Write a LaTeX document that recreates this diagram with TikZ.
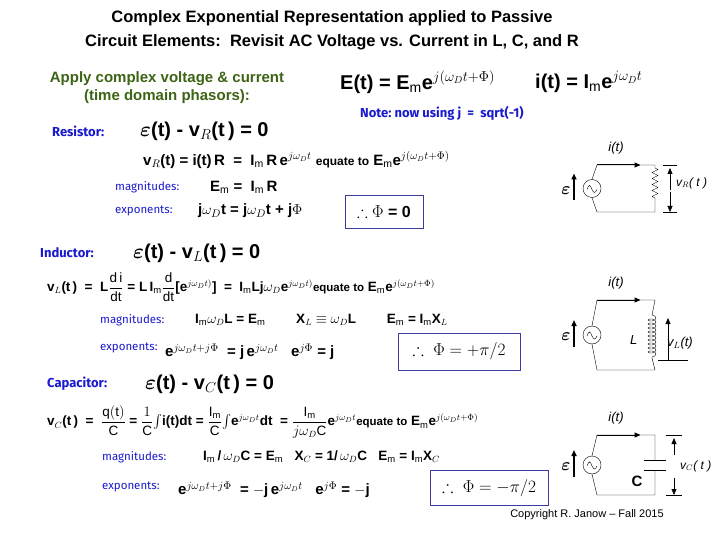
\documentclass[tikz,border=0pt]{standalone}
\usepackage{amsmath,amssymb}
\usepackage{fontspec}
\setmainfont{Liberation Sans}
\newfontfamily\labfont{Fira Sans}
\usetikzlibrary{arrows.meta,decorations.pathmorphing,calc}
\definecolor{blu}{RGB}{25,25,205}
\definecolor{grn}{RGB}{60,100,20}
\definecolor{boxc}{RGB}{60,60,160}
\tikzset{
 x=1pt,y=-1pt,
 eq/.style={anchor=west,inner sep=0pt,font=\bfseries\fontsize{15}{17}\selectfont},
 eqs/.style={anchor=west,inner sep=0pt,font=\bfseries\fontsize{13.5}{15}\selectfont},
 big/.style={anchor=west,inner sep=0pt,font=\bfseries\fontsize{20}{22}\selectfont},
 lab/.style={anchor=west,inner sep=0pt,text=blu,font=\labfont\bfseries\fontsize{13}{15}\selectfont},
 labs/.style={anchor=west,inner sep=0pt,text=blu,font=\labfont\fontsize{11.5}{13}\selectfont},
 ttl/.style={inner sep=0pt,font=\bfseries\fontsize{16.5}{19}\selectfont},
 res/.style={draw=boxc,thick},
 wire/.style={draw,thin},
 arr/.style={-{Triangle[length=6pt,width=5pt]}},
 cl/.style={inner sep=0pt,font=\itshape\fontsize{13}{15}\selectfont}
}
\begin{document}
\begin{tikzpicture}
\useasboundingbox (0,0) rectangle (720,540);
\node[ttl] (t1) at (332,18) {Complex Exponential Representation applied to Passive};
\node[ttl] (t2) at (332,42) {Circuit Elements:\ \ Revisit AC Voltage vs. Current in L, C, and R};
\node[text=grn,inner sep=0pt,font=\bfseries\fontsize{15}{17}\selectfont,align=center] (ap) at (167,88) {Apply complex voltage \& current\\[1pt](time domain phasors):};
\node[big] (Et) at (340,82) {E(t) = E$_\mathrm{m}$e$^{j(\omega_D t+\Phi)}$};
\node[big] (it) at (535,82) {i(t) = I$_\mathrm{m}$e$^{j\omega_D t}$};
\node[lab] (note) at (360,113) {Note:\ now using j \ = \ sqrt(-1)};
% Resistor
\node[lab] (rl) at (52,131) {Resistor:};
\node[big] (re) at (140,131) {$\boldsymbol{\varepsilon}$(t) - v$_R$(t\,) = 0};
\node[eq] (r1) at (143,160) {v$_R$(t) = i(t)\,R \ = \ I$_\mathrm{m}$\,R\,e$^{j\omega_D t}$ {\fontsize{12}{14}\selectfont equate to} E$_\mathrm{m}$e$^{j(\omega_D t+\Phi)}$};
\node[labs] (rm) at (115,187) {magnitudes:};
\node[eq] (rm2) at (210,187) {E$_\mathrm{m}$ = \ I$_\mathrm{m}$\,R};
\node[labs] (rx) at (115,211) {exponents:};
\node[eq] (rx2) at (198,211) {j$\omega_D$t = j$\omega_D$t + j$\Phi$};
\node[res,minimum width=78,minimum height=33,inner sep=0pt,font=\bfseries\fontsize{16}{18}\selectfont] (rb) at (384,211.5) {$\therefore$\ $\Phi$ = 0};
% Inductor
\node[lab] (ll) at (40,253) {Inductor:};
\node[big] (le) at (133,253) {$\boldsymbol{\varepsilon}$(t) - v$_L$(t\,) = 0};
\node[eqs] (l1) at (47,287) {v$_L$(t\,) \ = \ L$\dfrac{\mathrm{d\,i}}{\mathrm{dt}}$ = L\,I$_\mathrm{m}\dfrac{\mathrm{d}}{\mathrm{dt}}$[e$^{j\omega_D t)}$] \ = \ I$_\mathrm{m}$Lj$\omega_D$e$^{j\omega_D t)}${\fontsize{11.5}{13}\selectfont equate to} E$_\mathrm{m}$e$^{j(\omega_D t+\Phi)}$};
\node[labs] (lm) at (100,320) {magnitudes:};
\node[eqs] (lm2) at (195,320) {I$_\mathrm{m}\omega_D$L = E$_\mathrm{m}$ \qquad X$_L$ $\equiv$ $\omega_D$L \qquad E$_\mathrm{m}$ = I$_\mathrm{m}$X$_L$};
\node[labs] (lx) at (100,348) {exponents:};
\node[eq] (lx2) at (165,352) {e$^{j\omega_D t+j\Phi}$ \ = j\,e$^{j\omega_D t}$ \ \ e$^{j\Phi}$ = j};
\node[res,minimum width=122,minimum height=37,inner sep=0pt,font=\fontsize{17}{19}\selectfont] (lb) at (459,351.5) {$\therefore\ \Phi = +\pi/2$};
% Capacitor
\node[lab] (cl) at (47,384) {Capacitor:};
\node[big] (ce) at (145,384) {$\boldsymbol{\varepsilon}$(t) - v$_C$(t\,) = 0};
\node[eqs] (c1) at (47,422) {v$_C$(t\,) \ = \ $\dfrac{\mathrm{q(t)}}{\mathrm{C}}$ = $\dfrac{1}{\mathrm{C}}\!\int$i(t)dt = $\dfrac{\mathrm{I_m}}{\mathrm{C}}\!\int$e$^{j\omega_D t}$dt \ = $\dfrac{\mathrm{I_m}}{j\omega_D\mathrm{C}}$e$^{j\omega_D t}${\fontsize{11.5}{13}\selectfont equate to} E$_\mathrm{m}$e$^{j(\omega_D t+\Phi)}$};
\node[labs] (cm) at (102,457) {magnitudes:};
\node[eqs] (cm2) at (203,457) {I$_\mathrm{m}$\,/\,$\omega_D$C = E$_\mathrm{m}$ \ \ X$_C$ = 1/\,$\omega_D$C \ \ E$_\mathrm{m}$ = I$_\mathrm{m}$X$_C$};
\node[labs] (cx) at (102,487) {exponents:};
\node[eq] (cx2) at (178,490) {e$^{j\omega_D t+j\Phi}$ \ = $-$j\,e$^{j\omega_D t}$ \ \ e$^{j\Phi}$ = $-$j};
\node[res,minimum width=118,minimum height=35,inner sep=0pt,font=\fontsize{17}{19}\selectfont] (cb) at (489,488) {$\therefore\ \Phi = -\pi/2$};
\node[inner sep=0pt,font=\fontsize{11}{13}\selectfont] (cp) at (587,515) {Copyright R. Janow -- Fall 2015};
% ---- circuits
\foreach \yt/\yb/\nm in {165/212/R,300/370/L,435/495/C}{
 \coordinate (\nm tl) at (597,\yt);
 \coordinate (\nm tr) at (655,\yt);
 \coordinate (\nm bl) at (597,\yb);
 \coordinate (\nm br) at (655,\yb);
 \node[draw,circle,minimum size=18,inner sep=0pt,fill=white] (\nm src) at (592,{(\yt+\yb)/2}) {};
 \draw[thin] ($(\nm src)+(-5,1)$) sin ($(\nm src)+(-2.5,-3)$) cos ($(\nm src)+(0,1)$) sin ($(\nm src)+(2.5,4)$) cos ($(\nm src)+(5,1)$);
 \node[inner sep=0pt,font=\bfseries\fontsize{17}{19}\selectfont] (\nm eps) at (566,{(\yt+\yb)/2+2}) {$\boldsymbol{\varepsilon}$};
 \draw[arr,line width=1.5pt] ($(\nm eps)+(8,10)$) coordinate (\nm a1) -- ($(\nm eps)+(8,-17)$) coordinate (\nm a2);
 \draw[arr,line width=1pt] (\nm tl) -- ($(\nm tl)!0.75!(\nm tr)$) coordinate (\nm ia);
 \node[cl] (\nm ilab) at (616,{\yt-17}) {i(t)};
}
\draw[wire] (Rtl)--(Rsrc.north) (Rsrc.south)--(Rbl)--(Rbr)--(655,200) (Rtl)--(Rtr)--(655,168);
\draw[decorate,decoration={zigzag,segment length=6,amplitude=3}] (655,168)--(655,200);
\draw[arr] (670,190)--(670,168);\draw[arr] (670,192)--(670,212);
\draw (663,165)--(677,165) (663,212)--(677,212);
\node[cl,anchor=west,font=\itshape\fontsize{12}{14}\selectfont] (vr) at (676,183) {v$_R$( t )};
\draw[wire] (Ltl)--(Lsrc.north) (Lsrc.south)--(Lbl)--(Lbr)--(652,358) (Ltl)--(Ltr)--(652,315);
\draw[decorate,decoration={coil,segment length=4,amplitude=4,aspect=0.5}] (652,315)--(652,358);
\draw[arr] (668,345)--(668,318);\draw (668,345)--(668,360) (658,360)--(688,360);
\node[cl,anchor=west] (ll2) at (630,340) {L};
\node[cl,anchor=west] (vl) at (667,343) {v$_L$(t)};
\draw[wire] (Ctl)--(Csrc.north) (Csrc.south)--(Cbl)--(Cbr)--(655,470) (Ctl)--(Ctr)--(655,460);
\draw[thick] (644,460)--(666,460) (644,470)--(666,470);
\node[inner sep=0pt,font=\bfseries\fontsize{15}{17}\selectfont] (cc) at (637,481) {C};
\draw[arr] (674,455)--(674,438);\draw[arr] (674,478)--(674,495);
\draw (666,435)--(682,435) (666,495)--(682,495);
\node[cl,anchor=west,font=\itshape\fontsize{12}{14}\selectfont] (vc) at (680,466) {v$_C$( t )};
\end{tikzpicture}
\end{document}
